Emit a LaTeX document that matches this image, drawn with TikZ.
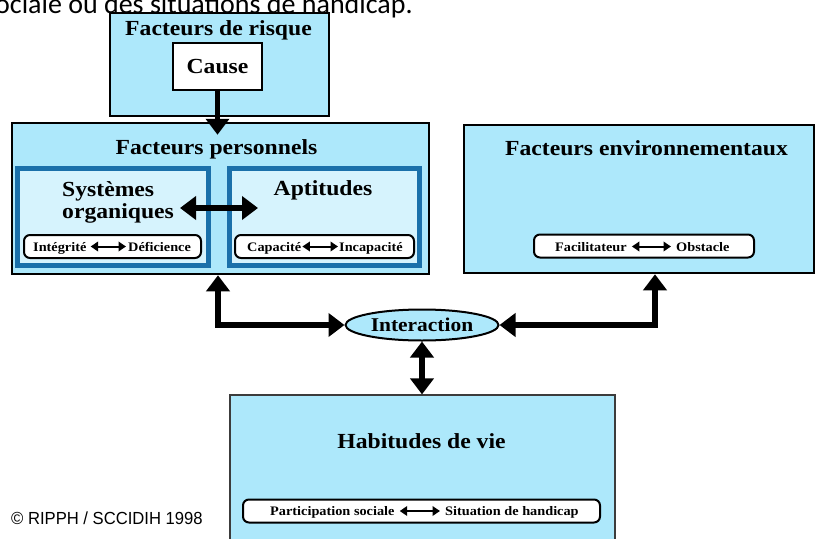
\documentclass[tikz,border=0pt]{standalone}
\usepackage{fontspec}
\setmainfont{Liberation Serif}[FakeStretch=1.1]
\newfontfamily\topfont{Carlito}
\newfontfamily\copyfont{Liberation Sans}[FakeStretch=0.95]
\usetikzlibrary{arrows.meta,shapes.geometric,calc}
\definecolor{boxblue}{RGB}{173,232,251}
\definecolor{innerfill}{RGB}{214,243,253}
\definecolor{innerline}{RGB}{26,112,170}
\definecolor{habline}{RGB}{60,60,60}
\tikzset{
  outerbox/.style={draw=black, line width=2.5pt, fill=boxblue, inner sep=0pt},
  innerbox/.style={draw=innerline, line width=5pt, fill=innerfill, inner sep=0pt},
  causebox/.style={draw=black, line width=2.5pt, fill=white, inner sep=0pt},
  pill/.style={draw=black, line width=2pt, fill=white, rounded corners=6pt, inner sep=0pt},
  bigtitle/.style={font=\fontsize{21.5}{22}\selectfont\bfseries, inner sep=0pt},
  pilltext/.style={font=\fontsize{13}{14}\selectfont\bfseries, inner sep=0pt, anchor=base west},
  bigarr/.style={line width=5.5pt, -{Triangle[length=16pt,width=23pt]}},
  bigdbl/.style={line width=5.5pt, {Triangle[length=16pt,width=23pt]}-{Triangle[length=16pt,width=23pt]}},
  pillarr/.style={line width=2pt, {Triangle[length=7.5pt,width=9.5pt]}-{Triangle[length=7.5pt,width=9.5pt]}},
}
\begin{document}
\begin{tikzpicture}[x=1pt,y=-1pt]
\useasboundingbox (0,0) rectangle (816,538);
\clip (0,0) rectangle (816,538);
\fill[white] (0,0) rectangle (816,538);

% partial heading text at the top
\node[font=\topfont\fontsize{28}{30}\selectfont, anchor=base west, inner sep=0pt] (toptext) at (-5,13) {ociale ou des situations de handicap.};

% Facteurs de risque
\node[outerbox, minimum width=219pt, minimum height=103pt] (risk) at (219.5,64.5) {};
\node[bigtitle, anchor=base] (risktitle) at (218.5,35) {Facteurs de risque};
\node[causebox, minimum width=89pt, minimum height=47pt] (cause) at (217.5,66.5) {};
\node[bigtitle, anchor=base] (causetext) at (217.5,73) {Cause};

% Facteurs personnels
\node[outerbox, minimum width=417pt, minimum height=151pt] (pers) at (220.5,198.5) {};
\node[bigtitle, anchor=base] (perstitle) at (216.5,154) {Facteurs personnels};
\node[innerbox, minimum width=191pt, minimum height=97pt] (sys) at (113,217) {};
\node[innerbox, minimum width=190pt, minimum height=97pt] (apt) at (324.5,217) {};
\node[bigtitle, align=left, anchor=west] (systext) at (62,202) {Systèmes\\organiques};
\node[bigtitle, anchor=base] (apttext) at (323,195) {Aptitudes};
\coordinate (sa) at (180,208);
\coordinate (sb) at (258,208);
\draw[bigdbl] (sa) -- (sb);

\node[pill, minimum width=177pt, minimum height=23pt] (p1) at (112.5,246.5) {};
\node[pilltext] (int) at (33,251) {Intégrité};
\node[pilltext] (def) at (128,251) {Déficience};
\draw[pillarr] ($(int.base east)+(4,-4.5)$) -- ($(def.base west)+(-2,-4.5)$);

\node[pill, minimum width=179pt, minimum height=23pt] (p2) at (324.5,246.5) {};
\node[pilltext] (cap) at (247,251) {Capacité};
\node[pilltext] (incap) at (339,251) {Incapacité};
\draw[pillarr] ($(cap.base east)+(1,-4.5)$) -- ($(incap.base west)+(-1,-4.5)$);

% Facteurs environnementaux
\node[outerbox, minimum width=350pt, minimum height=148pt] (env) at (639,199) {};
\node[bigtitle, anchor=base] (envtitle) at (646.5,155) {Facteurs environnementaux};
\node[pill, minimum width=220pt, minimum height=23pt] (p3) at (644,246) {};
\node[pilltext] (fac) at (555,251) {Facilitateur};
\node[pilltext] (obs) at (676,251) {Obstacle};
\draw[pillarr] ($(fac.base east)+(5,-4.5)$) -- ($(obs.base west)+(-5,-4.5)$);

% Habitudes de vie
\node[draw=habline, line width=1.2pt, fill=boxblue, inner sep=0pt, minimum width=385pt, minimum height=160pt] (hab) at (422.5,475) {};
\node[bigtitle, anchor=base] (habtitle) at (421.5,448) {Habitudes de vie};
\node[pill, minimum width=357pt, minimum height=23pt] (p4) at (421.5,511) {};
\node[pilltext] (part) at (270,515.5) {Participation sociale};
\node[pilltext] (sit) at (445,515.5) {Situation de handicap};
\draw[pillarr] ($(part.base east)+(5,-4.5)$) -- ($(sit.base west)+(-5,-4.5)$);

% Interaction
\node[ellipse, draw=black, line width=2pt, fill=boxblue, minimum width=153pt, minimum height=31pt, inner sep=0pt, font=\fontsize{19.5}{20}\selectfont\bfseries] (inter) at (422,325) {Interaction};

% connectors
\draw[bigarr] (cause.south) -- ([yshift=-13pt]cause.south |- pers.north);
\draw[bigdbl] (inter.west) -| ([xshift=-2.5pt]pers.south);
\draw[bigdbl] (inter.east) -| ([xshift=16pt]env.south);
\draw[bigdbl] (inter.south) -- (inter.south |- hab.north);

% copyright
\node[font=\copyfont\fontsize{17.5}{19}\selectfont, anchor=base west, inner sep=0pt] (copy) at (11,524) {© RIPPH / SCCIDIH 1998};
\end{tikzpicture}
\end{document}
